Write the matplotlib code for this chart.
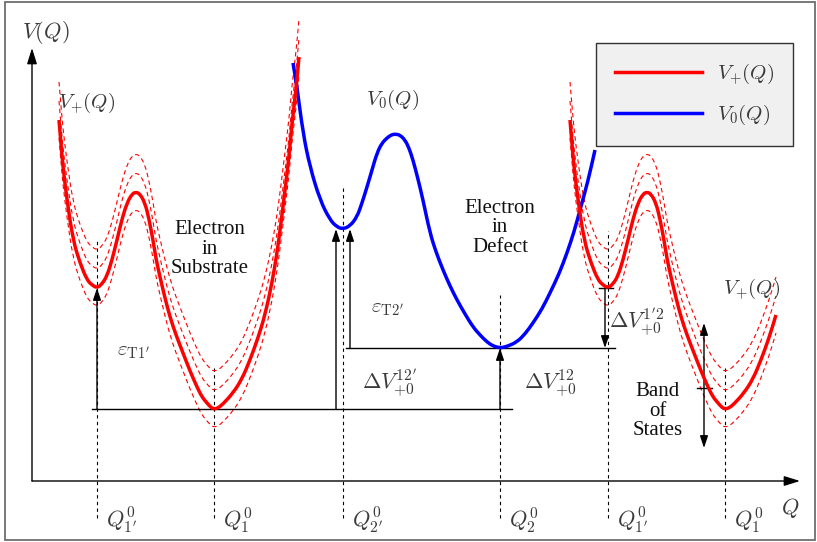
import numpy as np
import matplotlib.pyplot as plt
from matplotlib.patches import Rectangle, PathPatch
from matplotlib.path import Path
from matplotlib.lines import Line2D

plt.rcParams['mathtext.fontset'] = 'cm'

# V+(Q): double well for the electron in the substrate (left copy)
vp_q = [27, 29, 31, 35, 41, 48, 55, 60, 65, 70, 75, 80, 85, 90, 95, 100, 104,
        108, 113, 117, 121, 124, 128, 133, 138, 144, 151, 158, 165, 170, 175,
        179, 182, 186, 191, 201, 210, 218, 226, 233, 240, 245, 249, 253, 257,
        260, 264, 267]
vp_v = [361, 337, 314, 281, 241, 218, 201, 196, 193, 197, 205, 221, 241, 262,
        278, 287, 289, 287, 278, 262, 241, 222, 204, 183, 164, 146, 128, 110,
        94, 84, 78, 73.5, 72, 73, 77, 88, 102, 121, 143, 166, 198, 228, 258,
        291, 324, 358, 391, 424]

# V0(Q): electron in the defect
v0_q = [261, 265, 271, 278, 288, 298, 305, 311, 318, 325, 330, 335, 340, 345,
        350, 355, 359, 363, 368, 373, 377, 381, 386, 391, 398, 404, 411, 418,
        425, 433, 441, 448, 455, 461, 468, 475, 485, 493, 501, 510, 518, 527,
        535, 542, 548, 556, 563]
v0_v = [418, 394, 348, 314, 281, 261, 254, 252, 255, 264, 278, 294, 311, 328,
        338, 343, 346, 347, 346, 341, 333, 321, 302, 281, 248, 229, 211, 195,
        181, 167, 154, 146, 139, 135, 133, 134.5, 139, 147, 158, 172, 188, 207,
        228, 249, 271, 300, 331]

# thermal band around V+ (vertical offsets of the dashed curves)
band_dv = [-18, 19, 38]
# second copy of V+ on the right
shift_q = 511
right_q_max = 744

# configuration coordinates and energy levels
q1p, q1, q2p, q2 = 65, 182, 311, 468
v_q1, v_q1p, v_q2, v_q2p = 72, 193, 133, 252
mark_q = [q1p, q1, q2p, q2, q1p + shift_q, q1 + shift_q]
mark_top = [243, 116, 294, 186, 250, 114]
mark_lbl = [r"$Q^0_{1'}$", r"$Q^0_1$", r"$Q^0_{2'}$", r"$Q^0_2$",
            r"$Q^0_{1'}$", r"$Q^0_1$"]
mark_bottom = -37

red = '#ff0000'
blue = '#0000ff'
grey_txt = '#3a3a3a'


def smooth_path(q, v):
    # quadratic bezier through segment midpoints, data points as controls
    pts = np.column_stack([q, v])
    mids = (pts[:-1] + pts[1:]) / 2
    verts = [pts[0], mids[0]]
    codes = [Path.MOVETO, Path.LINETO]
    for i in range(1, len(pts) - 1):
        verts += [pts[i], mids[i]]
        codes += [Path.CURVE3, Path.CURVE3]
    verts.append(pts[-1])
    codes.append(Path.LINETO)
    return Path(verts, codes)


def draw_curve(ax, q, v, **kw):
    p = PathPatch(smooth_path(q, v), fill=False, joinstyle='round', **kw)
    ax.add_patch(p)
    return p


fig = plt.figure(figsize=(8.17, 5.42), dpi=100)
ax = fig.add_axes([0, 0, 1, 1])
ax.set_xlim(-32, 785)
ax.set_ylim(-61, 481)
ax.axis('off')

fig.patches.append(Rectangle((5 / 817, 2 / 542), 810 / 817, 538 / 542,
                             transform=fig.transFigure, fill=False,
                             ec='#6e6e6e', lw=1.3))

vp_q = np.array(vp_q, float)
vp_v = np.array(vp_v, float)
keep = vp_q + shift_q <= right_q_max

# blue curve
draw_curve(ax, v0_q, v0_v, ec=blue, lw=2.5, capstyle='butt', zorder=3)

# red curves with dashed band
for qq, vv in [(vp_q, vp_v), (vp_q[keep] + shift_q, vp_v[keep])]:
    for dv in band_dv:
        draw_curve(ax, qq, vv + dv, ec=red, lw=0.8, linestyle=(0, (4, 3)),
                   zorder=2)
    draw_curve(ax, qq, vv, ec=red, lw=2.5, capstyle='butt', zorder=4)

# dashed markers down to the Q axis
for q, top in zip(mark_q, mark_top):
    ax.plot([q, q], [mark_bottom, top], color='k', lw=0.8, dashes=(3, 3),
            zorder=1)
for q, s in zip(mark_q, mark_lbl):
    ax.text(q + 9, -39, s, fontsize=16, color=grey_txt, ha='left',
            va='center')

# axes arrows
ax_arrow = dict(arrowstyle='-|>,head_length=0.8,head_width=0.25', color='k',
                lw=1.0, shrinkA=0, shrinkB=0, mutation_scale=12)
ax.annotate('', xy=(0, 433), xytext=(0, 0), arrowprops=ax_arrow)
ax.annotate('', xy=(768, 0), xytext=(0, 0), arrowprops=ax_arrow)
ax.text(14, 449, r'$V(Q)$', fontsize=16, color=grey_txt, ha='center',
        va='center')
ax.text(758, -27, r'$Q$', fontsize=16, color=grey_txt, ha='center',
        va='center')

# reference levels
ax.plot([60, 480], [v_q1, v_q1], color='k', lw=1.0)
ax.plot([314, 583], [v_q2, v_q2], color='k', lw=1.0)

arr = dict(arrowstyle='-|>,head_length=0.6,head_width=0.2', color='k',
           lw=1.0, shrinkA=0, shrinkB=0, mutation_scale=12)
ax.annotate('', xy=(q1p, v_q1p), xytext=(q1p, v_q1), arrowprops=arr)
ax.annotate('', xy=(304, v_q2p), xytext=(304, v_q1), arrowprops=arr)
ax.annotate('', xy=(318, v_q2p), xytext=(318, v_q2), arrowprops=arr)
ax.annotate('', xy=(q2, v_q2), xytext=(q2, v_q1), arrowprops=arr)
ax.annotate('', xy=(573, v_q2), xytext=(573, v_q1p), arrowprops=arr)
ax.plot([567, 581], [v_q1p, v_q1p], color='k', lw=1.0)

# band of states
band_top, band_mid, band_bot = 158, 93, 33
dbl = dict(arrowstyle='<|-|>,head_length=0.6,head_width=0.2', color='k',
           lw=1.0, shrinkA=0, shrinkB=0, mutation_scale=12)
ax.annotate('', xy=(672, band_top), xytext=(672, band_bot), arrowprops=dbl)
ax.plot([665, 680], [band_mid, band_mid], color='k', lw=1.0)

# labels
ax.text(26, 378, r'$V_{+}(Q)$', fontsize=15, color=grey_txt, va='center')
ax.text(334, 381, r'$V_0(Q)$', fontsize=15, color=grey_txt, va='center')
ax.text(691, 192, r'$V_{+}(Q)$', fontsize=15, color=grey_txt, va='center')
ax.text(85, 130, r'$\varepsilon_{\rm T1^\prime}$', fontsize=15,
        color=grey_txt, va='center')
ax.text(339, 173, r'$\varepsilon_{\rm T2^\prime}$', fontsize=15,
        color=grey_txt, va='center')
ax.text(330, 98, r"$\Delta V^{12'}_{+0}$", fontsize=16, color=grey_txt,
        va='center')
ax.text(492, 98, r"$\Delta V^{12}_{+0}$", fontsize=16, color=grey_txt,
        va='center')
ax.text(577, 159, r"$\Delta V^{1'2}_{+0}$", fontsize=16, color=grey_txt,
        va='center')

serif = dict(family='Liberation Serif', fontsize=15, ha='center',
             va='center', linespacing=1.05, color='#111111')
ax.text(178, 232, 'Electron\nin\nSubstrate', **serif)
ax.text(468, 253, 'Electron\nin\nDefect', **serif)
ax.text(626, 70, 'Band\nof\nStates', **serif)

handles = [Line2D([], [], color=red, lw=2.5),
           Line2D([], [], color=blue, lw=2.5)]
leg = ax.legend(handles, [r'$V_{+}(Q)$', r'$V_0(Q)$'], loc='upper right',
                bbox_to_anchor=(793 / 817, 1 - 43 / 542),
                bbox_transform=fig.transFigure, borderaxespad=0,
                fontsize=15, handlelength=4.2, handletextpad=0.7,
                borderpad=0.9, labelspacing=0.8, fancybox=False,
                framealpha=1, facecolor='#f0f0f0', edgecolor='#333333')
leg.get_frame().set_linewidth(1.0)
for t in leg.get_texts():
    t.set_color(grey_txt)

fig.savefig('out.png', dpi=100)
